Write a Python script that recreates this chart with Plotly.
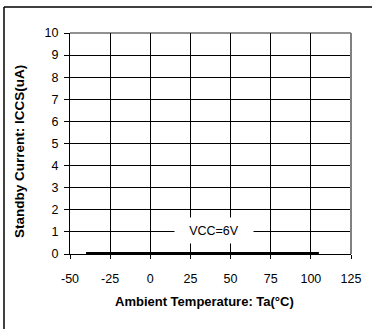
import plotly.graph_objects as go

# Standby current vs ambient temperature, VCC = 6V
temperature_c = [-40, -25, 0, 25, 50, 75, 100, 105]
iccs_ua = [0, 0, 0, 0, 0, 0, 0, 0]

x_ticks = [-50, -25, 0, 25, 50, 75, 100, 125]
y_ticks = [0, 1, 2, 3, 4, 5, 6, 7, 8, 9, 10]

font_family = "Liberation Sans, Arial, sans-serif"

fig = go.Figure()
fig.add_trace(go.Scatter(
    x=temperature_c, y=iccs_ua, mode="lines",
    line=dict(color="black", width=4),
    cliponaxis=False, showlegend=False, hoverinfo="skip",
))

fig.update_layout(
    width=372, height=329,
    margin=dict(l=70, r=21, t=33, b=75),
    paper_bgcolor="white", plot_bgcolor="white",
    font=dict(family=font_family, size=12, color="black"),
    showlegend=False,
    xaxis=dict(
        range=[-50, 125], tickvals=x_ticks, ticktext=[str(v) for v in x_ticks],
        showgrid=True, gridcolor="black", gridwidth=1, zeroline=False,
        showline=True, linecolor="black", linewidth=1,
        ticks="outside", ticklen=4, tickcolor="black",
        ticklabelstandoff=9,
        tickfont=dict(size=12.5),
        fixedrange=True,
    ),
    yaxis=dict(
        range=[0, 10], tickvals=y_ticks, ticktext=[str(v) for v in y_ticks],
        showgrid=True, gridcolor="black", gridwidth=1, zeroline=False,
        showline=True, linecolor="black", linewidth=1,
        ticks="outside", ticklen=5, tickcolor="black",
        ticklabelstandoff=3,
        tickfont=dict(size=12.5),
        fixedrange=True,
    ),
)

# Axis titles
fig.add_annotation(
    x=0.48, y=-0.2127, xref="paper", yref="paper",
    xanchor="center", yanchor="middle",
    text="<b>Ambient Temperature: Ta(°C)</b>", showarrow=False,
    font=dict(size=13, family=font_family, color="black"),
)
fig.add_annotation(
    x=-0.1815, y=0.466, xref="paper", yref="paper", textangle=-90,
    xanchor="center", yanchor="middle",
    text="<b>Standby Current: ICCS(uA)</b>", showarrow=False,
    font=dict(size=13.5, family=font_family, color="black"),
)

# Plot frame: dark top edge, grey right edge
fig.add_shape(type="line", xref="paper", yref="paper", x0=0, x1=1, y0=1, y1=1,
              line=dict(color="#222222", width=1))
fig.add_shape(type="line", xref="paper", yref="paper", x0=1, x1=1, y0=0, y1=1,
              line=dict(color="#808080", width=2))

# Outer page frame (left and top edges)
fig.add_shape(type="line", xref="paper", yref="paper",
              x0=-0.2349, x1=-0.2349, y0=-0.34, y1=1.1176,
              line=dict(color="black", width=1.5))
fig.add_shape(type="line", xref="paper", yref="paper",
              x0=-0.2349, x1=1.08, y0=1.1176, y1=1.1176,
              line=dict(color="black", width=1.5))

# Series label
fig.add_annotation(
    x=39.7, y=1.07, xref="x", yref="y", text="VCC=6V", showarrow=False,
    font=dict(size=12.5, family=font_family, color="black"),
    bgcolor="white", width=78, height=25, borderpad=0,
)

fig.write_html("out.html")
